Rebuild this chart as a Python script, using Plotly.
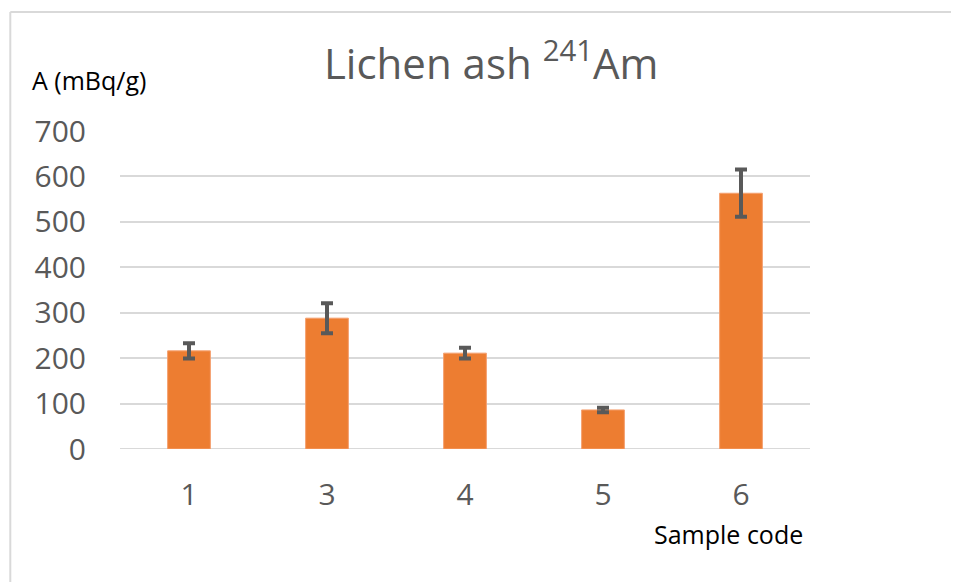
import plotly.graph_objects as go

categories = ["1", "3", "4", "5", "6"]
values = [216, 288, 211, 86, 563]
errors = [17, 33, 12, 5, 52]
y_ticks = [0, 100, 200, 300, 400, 500, 600, 700]

FONT = "Open Sans"
GRAY = "#595959"

fig = go.Figure()
fig.add_trace(go.Bar(
    x=categories, y=values,
    marker=dict(color="#ED7D31", line=dict(color="#F4A070", width=1)),
    width=0.31,
    error_y=dict(type="data", array=errors, visible=True,
                 color=GRAY, thickness=4, width=6),
))

fig.update_layout(
    width=951, height=574,
    margin=dict(l=112, r=149, t=123, b=133),
    paper_bgcolor="white", plot_bgcolor="white",
    showlegend=False,
    title=dict(text="Lichen ash <sup>241</sup>Am", x=0.538, xanchor="center",
               xref="paper", y=0.902, yanchor="middle",
               font=dict(family=FONT, size=42, color=GRAY)),
    xaxis=dict(type="category", showgrid=False, showline=False, zeroline=False,
               tickfont=dict(family=FONT, size=30, color=GRAY),
               ticks="", ticklabelstandoff=25),
    yaxis=dict(range=[0, 700], tickvals=y_ticks, showgrid=True,
               gridcolor="#D9D9D9", gridwidth=2, zeroline=False, showline=False,
               tickfont=dict(family=FONT, size=30, color=GRAY),
               ticks="", ticklabelstandoff=33),
    shapes=[
        dict(type="line", xref="paper", yref="paper", x0=-0.159, x1=1.25,
             y0=1.374, y1=1.374, line=dict(color="#D9D9D9", width=2)),
        dict(type="line", xref="paper", yref="paper", x0=-0.159, x1=-0.159,
             y0=1.374, y1=-0.5, line=dict(color="#D9D9D9", width=2)),
        dict(type="line", xref="paper", yref="y", x0=0, x1=1, y0=0, y1=0,
             line=dict(color="#D9D9D9", width=2), layer="below"),
    ],
    annotations=[
        dict(text="A (mBq/g)", xref="paper", yref="paper", x=-0.130, y=1.160,
             xanchor="left", yanchor="middle", showarrow=False,
             font=dict(family=FONT, size=25, color="black")),
        dict(text="Sample code", xref="paper", yref="paper", x=0.771, y=-0.267,
             xanchor="left", yanchor="middle", showarrow=False,
             font=dict(family=FONT, size=25, color="black")),
    ],
)

fig.write_html("out.html")
